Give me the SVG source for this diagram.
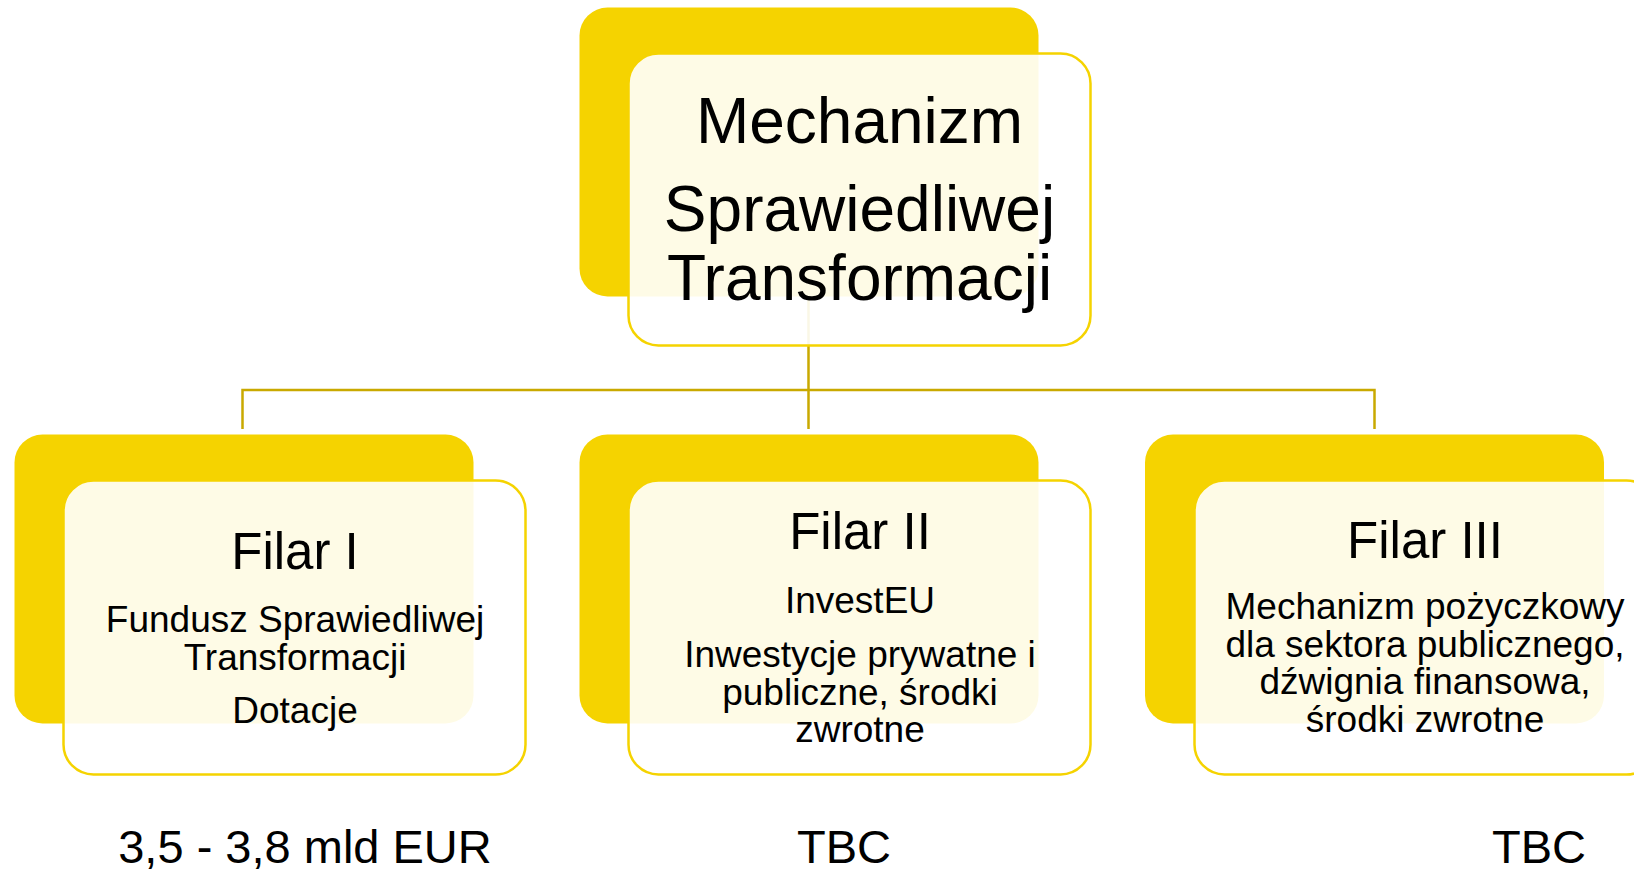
<svg xmlns="http://www.w3.org/2000/svg" width="1634" height="871" viewBox="0 0 1634 871">
<style>
.back{fill:#F5D300;}
.front{fill:#FFFFFF;fill-opacity:0.9;stroke:#F5D300;stroke-width:2.5;}
.conn{fill:none;stroke:#C9A900;stroke-width:2.5;}
text{font-family:"Liberation Sans",Arial,sans-serif;fill:#000;text-anchor:middle;}
.t1{font-size:64px;}
.t2{font-size:51px;}
.t3{font-size:37px;}
.t4{font-size:47px;}
</style>
<rect width="1634" height="871" fill="#FFFFFF"/>
<g id="connectors">
<path class="conn" d="M808.5 296 V390 M242.5 429 V390 H1374.5 V429 M808.5 390 V429"/>
</g>
<g id="node-top">
<rect class="back" x="579.5" y="7.5" width="459" height="289" rx="28"/>
<rect class="front" x="628.5" y="53.5" width="462" height="292" rx="30"/>
<text class="t1" x="859.5" y="142.5">Mechanizm</text>
<text class="t1" x="859.5" y="231">Sprawiedliwej</text>
<text class="t1" x="859.5" y="300">Transformacji</text>
</g>
<g id="node-filar1">
<rect class="back" x="14.5" y="434.5" width="459" height="289" rx="28"/>
<rect class="front" x="63.5" y="480.5" width="462" height="294" rx="30"/>
<text class="t2" x="295" y="569">Filar I</text>
<text class="t3" x="295" y="631.5">Fundusz Sprawiedliwej</text>
<text class="t3" x="295" y="670">Transformacji</text>
<text class="t3" x="295" y="723">Dotacje</text>
</g>
<g id="node-filar2">
<rect class="back" x="579.5" y="434.5" width="459" height="289" rx="28"/>
<rect class="front" x="628.5" y="480.5" width="462" height="294" rx="30"/>
<text class="t2" x="860" y="549">Filar II</text>
<text class="t3" x="860" y="613">InvestEU</text>
<text class="t3" x="860" y="667">Inwestycje prywatne i</text>
<text class="t3" x="860" y="704.5">publiczne, środki</text>
<text class="t3" x="860" y="742">zwrotne</text>
</g>
<g id="node-filar3">
<rect class="back" x="1145" y="434.5" width="459" height="289" rx="28"/>
<rect class="front" x="1194.5" y="480.5" width="462" height="294" rx="30"/>
<text class="t2" x="1425" y="557.5">Filar III</text>
<text class="t3" x="1425" y="619">Mechanizm pożyczkowy</text>
<text class="t3" x="1425" y="656.5">dla sektora publicznego,</text>
<text class="t3" x="1425" y="694">dźwignia finansowa,</text>
<text class="t3" x="1425" y="731.5">środki zwrotne</text>
</g>
<g id="amounts">
<text class="t4" x="305" y="863">3,5 - 3,8 mld EUR</text>
<text class="t4" x="844" y="863">TBC</text>
<text class="t4" x="1539" y="863">TBC</text>
</g>
</svg>
